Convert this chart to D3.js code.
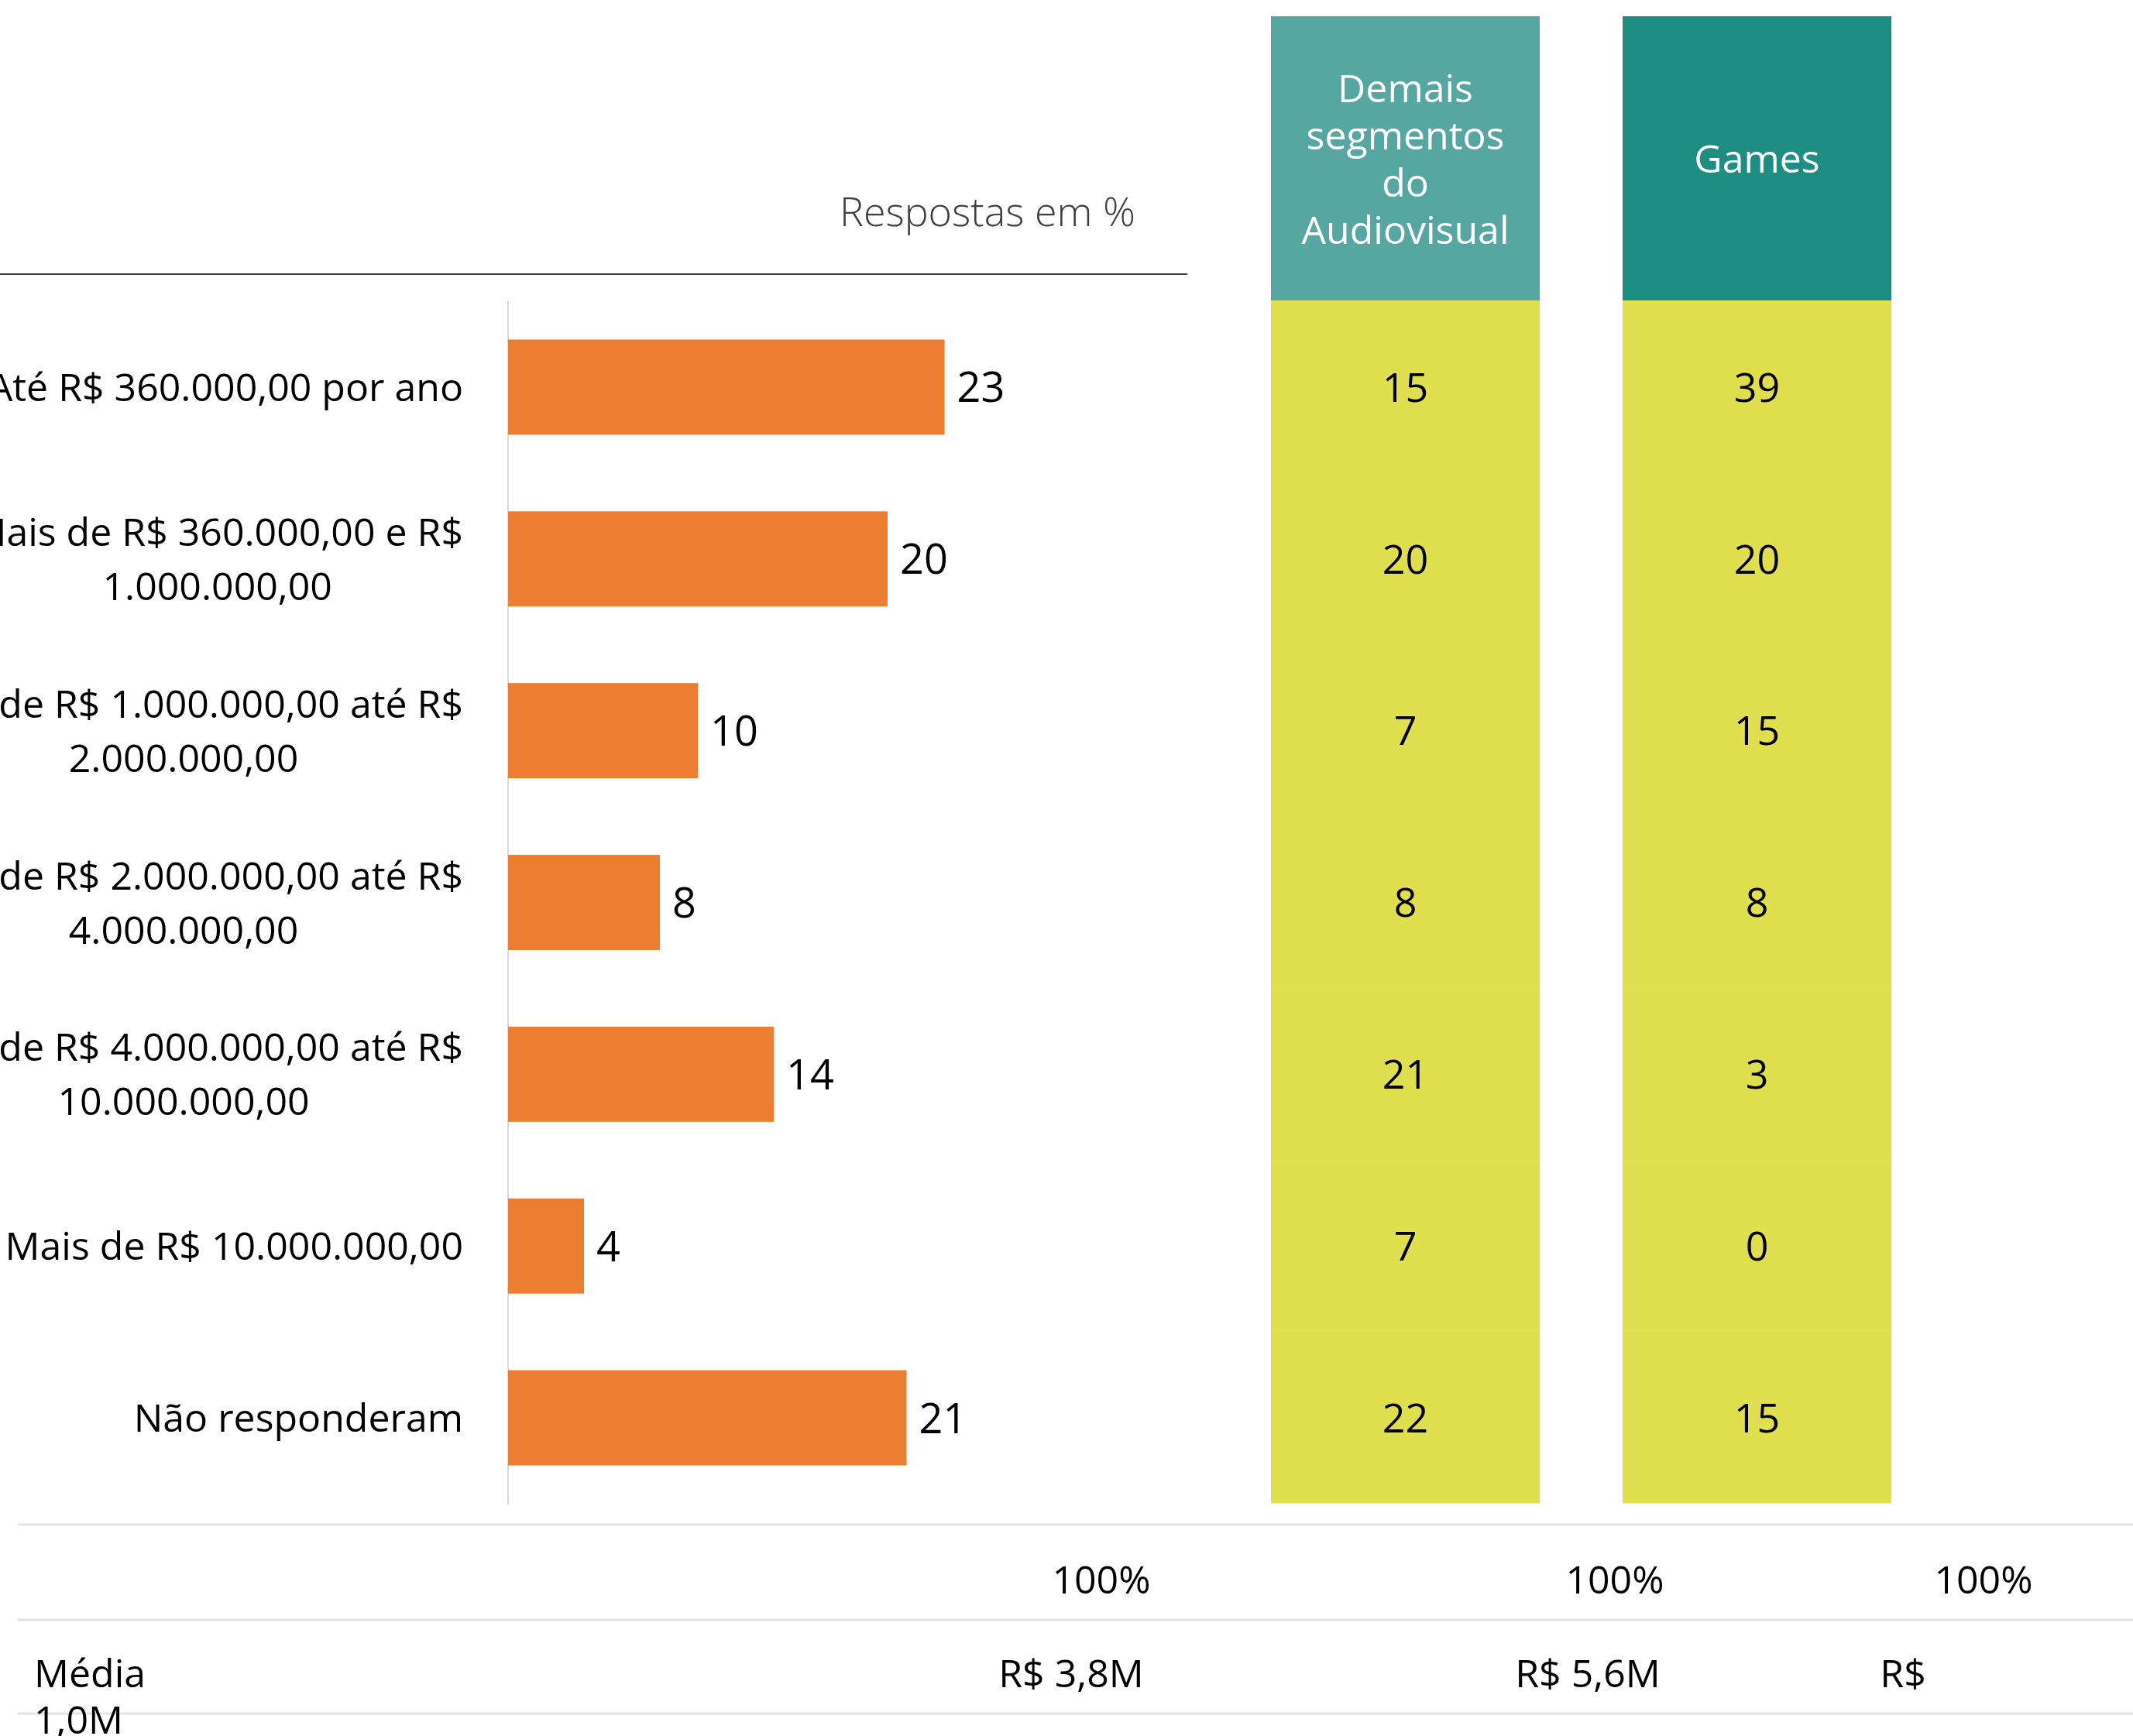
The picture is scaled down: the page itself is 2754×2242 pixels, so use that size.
<!DOCTYPE html>
<html>
<head>
<meta charset="utf-8">
<script src="https://cdn.jsdelivr.net/npm/d3@7"></script>
<style>
  html, body { margin: 0; padding: 0; background: #ffffff; }
  svg { display: block; }
  text { font-family: 'Segoe UI', 'Open Sans', 'Noto Sans', sans-serif; }
</style>
</head>
<body>
<svg id="chart" width="2754" height="2242"></svg>
<script>
// Faixas de faturamento anual (rótulos do eixo, quebrados em linhas)
const categories = [
  ["Até R$ 360.000,00 por ano"],
  ["Mais de R$ 360.000,00 e R$", "1.000.000,00"],
  ["Mais de R$ 1.000.000,00 até R$", "2.000.000,00"],
  ["Mais de R$ 2.000.000,00 até R$", "4.000.000,00"],
  ["Mais de R$ 4.000.000,00 até R$", "10.000.000,00"],
  ["Mais de R$ 10.000.000,00"],
  ["Não responderam"]
];
// Respostas em % – total
const totalValues = [23, 20, 10, 8, 14, 4, 21];
// Respostas em % por segmento
const demaisValues = [15, 20, 7, 8, 21, 7, 22];
const gamesValues = [39, 20, 15, 8, 3, 0, 15];
const segmentHeaders = [
  ["Demais", "segmentos", "do", "Audiovisual"],
  ["Games"]
];
// Linhas de rodapé
const totalRow = ["100%", "100%", "100%"];
const averageRow = ["R$ 3,8M", "R$ 5,6M", "R$"];
const averageLabel = ["Média", "1,0M"];

const svg = d3.select("#chart");

const colors = {
  bar: "#ED7D31",
  cell: "#E0E04E",
  headers: ["#56A6A2", "#1F8E82"],
  axis: "#D9D9D9",
  rule: "#404040",
  text: "#000000"
};

// Escalas
const y = d3.scaleBand()
  .domain(d3.range(categories.length))
  .range([389, 1942])
  .paddingInner(0.446)
  .paddingOuter(0.223);

const yCell = d3.scaleBand()
  .domain(d3.range(categories.length))
  .range([388, 1941]);

const x = d3.scaleLinear().domain([0, 35]).range([656, 1513.5]);

const segCols = d3.scaleBand()
  .domain([0, 1])
  .range([1641, 2442])
  .paddingInner(0.2357)
  .paddingOuter(0);

// Subtítulo e linha superior
svg.append("text")
  .attr("x", 1466).attr("y", 292)
  .attr("text-anchor", "end")
  .attr("font-size", 52)
  .attr("font-weight", 300)
  .attr("fill", colors.rule)
  .text("Respostas em %");

svg.append("line")
  .attr("x1", 0).attr("x2", 1533)
  .attr("y1", 354).attr("y2", 354)
  .attr("stroke", colors.rule).attr("stroke-width", 2);

// Eixo vertical
svg.append("line")
  .attr("x1", x(0)).attr("x2", x(0))
  .attr("y1", 389).attr("y2", 1943)
  .attr("stroke", colors.axis).attr("stroke-width", 2);

// Barras
svg.append("g").selectAll("rect")
  .data(totalValues)
  .join("rect")
  .attr("x", x(0))
  .attr("y", (d, i) => y(i))
  .attr("width", d => x(d) - x(0))
  .attr("height", y.bandwidth())
  .attr("fill", colors.bar);

// Rótulos de valor das barras
svg.append("g").selectAll("text")
  .data(totalValues)
  .join("text")
  .attr("x", d => x(d) + 16)
  .attr("y", (d, i) => y(i) + y.bandwidth() / 2)
  .attr("dy", "0.36em")
  .attr("font-size", 54)
  .attr("fill", colors.text)
  .text(d => d);

// Rótulos das categorias: bloco alinhado à direita, linhas centralizadas entre si
const labelRight = 598;
const lineH = 70;
const catG = svg.append("g");
categories.forEach((lines, i) => {
  const cy = y(i) + y.bandwidth() / 2;
  const g = catG.append("g");
  const texts = lines.map((ln, k) =>
    g.append("text")
      .attr("y", cy + (k - (lines.length - 1) / 2) * lineH)
      .attr("dy", "0.36em")
      .attr("font-size", 50)
      .attr("text-anchor", "middle")
      .attr("fill", colors.text)
      .text(ln)
  );
  const w = d3.max(texts, t => t.node().getComputedTextLength());
  texts.forEach(t => t.attr("x", labelRight - w / 2));
});

// Colunas por segmento: cabeçalho + células
const segValues = [demaisValues, gamesValues];
segValues.forEach((vals, c) => {
  const cx = segCols(c);
  const bw = segCols.bandwidth();
  svg.append("rect")
    .attr("x", cx).attr("y", 21)
    .attr("width", bw).attr("height", 388 - 21)
    .attr("fill", colors.headers[c]);

  const hl = segmentHeaders[c];
  const hLine = 61;
  svg.append("g").selectAll("text")
    .data(hl)
    .join("text")
    .attr("x", cx + bw / 2)
    .attr("y", (d, k) => 205 + (k - (hl.length - 1) / 2) * hLine)
    .attr("dy", "0.36em")
    .attr("text-anchor", "middle")
    .attr("font-size", 50)
    .attr("fill", "#ffffff")
    .text(d => d);

  const g = svg.append("g");
  g.selectAll("rect")
    .data(vals)
    .join("rect")
    .attr("x", cx)
    .attr("y", (d, i) => yCell(i))
    .attr("width", bw)
    .attr("height", yCell.bandwidth() + 0.5)
    .attr("fill", colors.cell);
  g.selectAll("text")
    .data(vals)
    .join("text")
    .attr("x", cx + bw / 2)
    .attr("y", (d, i) => y(i) + y.bandwidth() / 2)
    .attr("dy", "0.36em")
    .attr("text-anchor", "middle")
    .attr("font-size", 52)
    .attr("fill", colors.text)
    .text(d => d);
});

// Rodapé: linhas divisórias
[1969, 2092, 2213].forEach(yy => {
  svg.append("line")
    .attr("x1", 23).attr("x2", 2754)
    .attr("y1", yy).attr("y2", yy)
    .attr("stroke", "#E3E3E3").attr("stroke-width", 3);
});

// Linha de total
const totalX = [1422, 2085, 2561];
svg.append("g").selectAll("text")
  .data(totalRow)
  .join("text")
  .attr("x", (d, i) => totalX[i])
  .attr("y", 2058)
  .attr("text-anchor", "middle")
  .attr("font-size", 50)
  .attr("fill", colors.text)
  .text(d => d);

// Linha de média
const avgX = [1383, 2050, 2457];
svg.append("g").selectAll("text")
  .data(averageRow)
  .join("text")
  .attr("x", (d, i) => avgX[i])
  .attr("y", 2179)
  .attr("text-anchor", "middle")
  .attr("font-size", 50)
  .attr("fill", colors.text)
  .text(d => d);

svg.append("g").selectAll("text")
  .data(averageLabel)
  .join("text")
  .attr("x", 44)
  .attr("y", (d, i) => 2179 + i * 60)
  .attr("font-size", 50)
  .attr("fill", colors.text)
  .text(d => d);
</script>
</body>
</html>
